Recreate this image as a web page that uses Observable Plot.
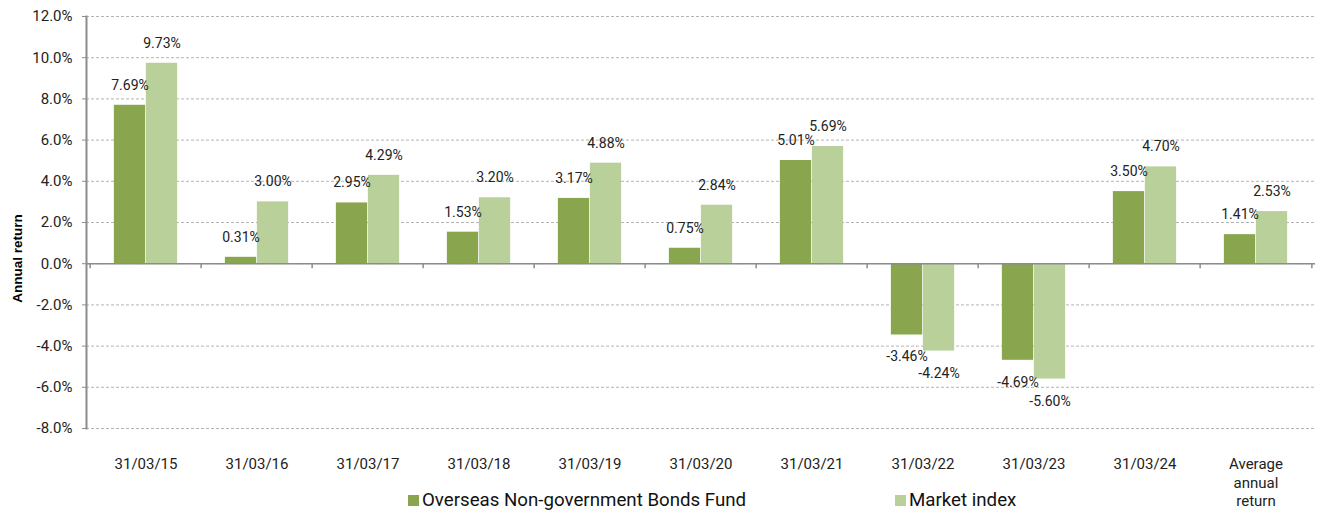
<!DOCTYPE html>
<html><head><meta charset="utf-8">
<script src="https://cdn.jsdelivr.net/npm/d3@7"></script>
<script src="https://cdn.jsdelivr.net/npm/@observablehq/plot@0.6"></script>
<style>
body{margin:0;background:#fff;font-family:Roboto,sans-serif;}
#chart svg{overflow:visible;display:block;}
#legend{position:relative;width:1320px;height:32px;font-size:18.7px;color:#111;}
.item{position:absolute;top:6px;display:flex;align-items:center;line-height:24px;}
.sw{width:11px;height:11px;margin-right:3px;}
</style></head><body><div id="chart"></div><div id="legend"></div>
<script>
const categories = ["31/03/15","31/03/16","31/03/17","31/03/18","31/03/19","31/03/20","31/03/21","31/03/22","31/03/23","31/03/24","Average annual return"];
const fundValues = [7.69,0.31,2.95,1.53,3.17,0.75,5.01,-3.46,-4.69,3.50,1.41];
const indexValues = [9.73,3.00,4.29,3.20,4.88,2.84,5.69,-4.24,-5.60,4.70,2.53];
const seriesNames = ["Overseas Non-government Bonds Fund","Market index"];
const seriesColors = ["#89a64f","#b9d09a"];
const yTicks = [-8,-6,-4,-2,0,2,4,6,8,10,12];
const yTitle = "Annual return";

const W = 1320, H = 482, mL = 86, mR = 5, mT = 16, mB = 54;
const bw = (W - mL - mR) / categories.length;
const barW = 32;
const inset = (bw - barW) / 2;

const fund = categories.map((c,i)=>({category:c, value:fundValues[i]}));
const idx = categories.map((c,i)=>({category:c, value:indexValues[i]}));
const fmt = v => v.toFixed(2) + "%";
const axisGray = "#8c8c8c";

const labelMarks = (data, dx) => [
  Plot.text(data.filter(d=>d.value>=0), {x:"category", y:"value", text:d=>fmt(d.value), dx, dy:-20, fontSize:14, fill:"#222"}),
  Plot.text(data.filter(d=>d.value<0), {x:"category", y:"value", text:d=>fmt(d.value), dx, dy:22, fontSize:14, fill:"#222"})
];

const chart = Plot.plot({
  width: W, height: H,
  marginLeft: mL, marginRight: mR, marginTop: mT, marginBottom: mB,
  style: {fontFamily: "Roboto, sans-serif", background: "#fff"},
  x: {domain: categories, padding: 0, axis: null},
  y: {domain: [-8, 12], axis: null},
  marks: [
    Plot.gridY(yTicks, {stroke: "#b4b4b4", strokeOpacity: 1, strokeDasharray: "3,2"}),
    Plot.barY(fund, {x:"category", y:"value", fill: seriesColors[0], dx: -barW/2, insetLeft: inset, insetRight: inset}),
    Plot.barY(idx, {x:"category", y:"value", fill: seriesColors[1], dx: barW/2, insetLeft: inset, insetRight: inset}),
    Plot.ruleY([0], {stroke: axisGray, strokeWidth: 1.5}),
    Plot.ruleX(categories, {x: d=>d, y1: 0, y2: 0, insetBottom: -5, dx: -bw/2, stroke: axisGray, strokeWidth: 1.5}),
    Plot.ruleX(categories.slice(-1), {x: d=>d, y1: 0, y2: 0, insetBottom: -5, dx: bw/2, stroke: axisGray, strokeWidth: 1.5}),
    Plot.frame({anchor: "left", stroke: axisGray, strokeWidth: 2}),
    Plot.axisY(yTicks, {tickFormat: d => d.toFixed(1) + "%", tickSize: 4, tickPadding: 10, stroke: axisGray, fill: "#222", fontSize: 15, label: null}),
    Plot.axisX({tickSize: 0, tickPadding: 27, fontSize: 15, fill: "#222", lineWidth: 5, lineHeight: 1.25, label: null}),
    Plot.text([yTitle], {frameAnchor: "left", dx: -69, dy: 36, rotate: -90, text: d => d, fontSize: 13.5, fontWeight: "bold",
      fontFamily: "Liberation Sans, Arial, sans-serif", fill: "#000", textAnchor: "middle", lineAnchor: "middle"}),
    ...labelMarks(fund, -barW/2),
    ...labelMarks(idx, barW/2)
  ]
});
document.getElementById("chart").append(chart);

const legend = document.getElementById("legend");
const lefts = [408, 895];
seriesNames.forEach((n,i)=>{
  const it = document.createElement("div");
  it.className = "item";
  it.style.left = lefts[i] + "px";
  const sw = document.createElement("span");
  sw.className = "sw"; sw.style.background = seriesColors[i];
  const t = document.createElement("span"); t.textContent = n;
  it.append(sw, t);
  legend.append(it);
});
</script></body></html>
